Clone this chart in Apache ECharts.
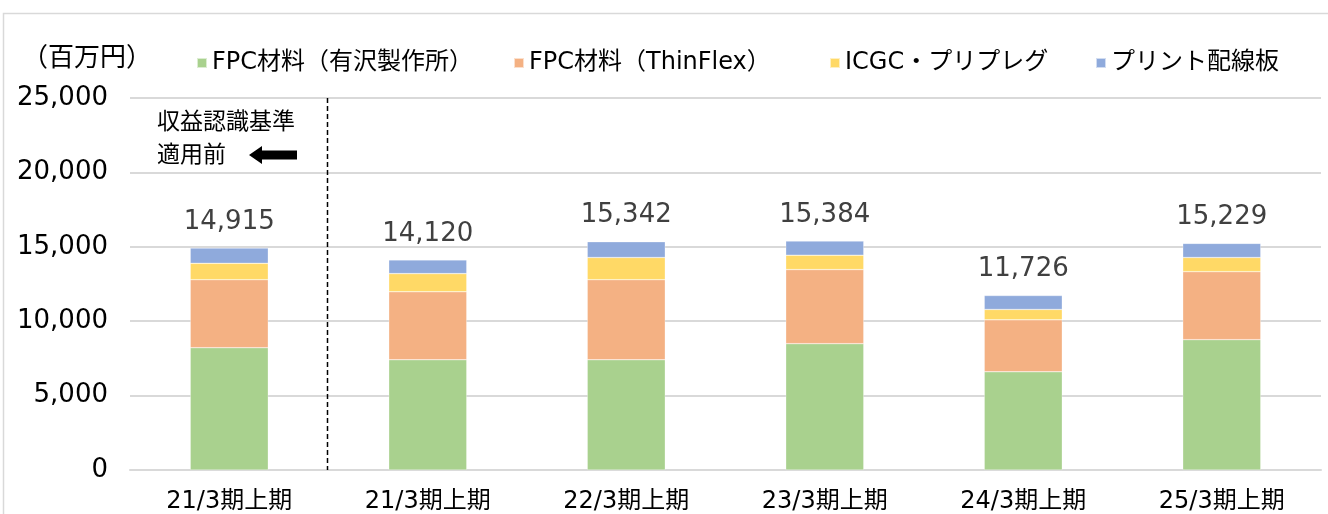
<!DOCTYPE html>
<html>
<head>
<meta charset="utf-8">
<script src="https://cdn.jsdelivr.net/npm/echarts@6/dist/echarts.min.js"></script>
<style>
  html, body { margin: 0; padding: 0; background: #fff; }
  #chart { width: 1328px; height: 514px; }
</style>
</head>
<body>
<div id="chart"></div>
<script>
// 半期ごとの売上高（百万円）
const categories = ['21/3期上期', '21/3期上期', '22/3期上期', '23/3期上期', '24/3期上期', '25/3期上期'];
const fpcArisawa  = [8220, 7410, 7410, 8490, 6600, 8760];
const fpcThinFlex = [4570, 4570, 5380, 4980, 3490, 4570];
const icgcPrepreg = [1100, 1220, 1490,  970,  700,  950];
const printedPcb  = [1025,  920, 1062,  944,  936,  949];
const seriesNames = ['FPC材料（有沢製作所）', 'FPC材料（ThinFlex）', 'ICGC・プリプレグ', 'プリント配線板'];
const yTicks = [0, 5000, 10000, 15000, 20000, 25000];

const colors = ['#a9d18e', '#f4b183', '#ffd966', '#8faadc'];
// 英数字は DejaVu Sans、和文は Noto Sans CJK JP で描く
const FONT = '"DejaVu Sans", "Noto Sans CJK JP", sans-serif';
const stacks = [fpcArisawa, fpcThinFlex, icgcPrepreg, printedPcb];
const fmt = v => v.toLocaleString('en-US');

const chart = echarts.init(document.getElementById('chart'));

const series = stacks.map((data, si) => ({
  name: seriesNames[si],
  type: 'bar',
  stack: 'total',
  data: data,
  barWidth: 78,
  itemStyle: { color: colors[si], borderColor: 'rgba(255,255,255,0.6)', borderWidth: 0.5 },
  label: si === stacks.length - 1 ? {
    show: true,
    position: 'top',
    distance: 13,
    fontFamily: FONT,
    fontSize: 26,
    color: '#404040',
    formatter: p => fmt(stacks.reduce((s, arr) => s + arr[p.dataIndex], 0))
  } : { show: false },
  emphasis: { disabled: true }
}));

// 凡例は項目ごとに配置する
const legendLeft = [191, 508, 824, 1090];
const legends = seriesNames.map((name, i) => ({
  left: legendLeft[i],
  top: 46,
  icon: 'rect',
  itemWidth: 10,
  itemHeight: 10,
  textStyle: { fontFamily: FONT, fontSize: 24, color: '#000' },
  data: [name]
}));

chart.setOption({
  animation: false,
  textStyle: { fontFamily: FONT },
  grid: { left: 130, right: 7, top: 98, bottom: 44, containLabel: false },
  legend: legends,
  xAxis: {
    type: 'category',
    data: categories,
    axisTick: { show: false },
    axisLine: { lineStyle: { color: '#d9d9d9', width: 2 } },
    axisLabel: { fontFamily: FONT, fontSize: 24, color: '#000', margin: 20 }
  },
  yAxis: {
    type: 'value',
    min: yTicks[0],
    max: yTicks[yTicks.length - 1],
    interval: yTicks[1] - yTicks[0],
    axisLine: { show: false },
    axisTick: { show: false },
    splitLine: { lineStyle: { color: '#d9d9d9', width: 2 } },
    axisLabel: { fontFamily: FONT, fontSize: 26, color: '#000', margin: 22, padding: [6, 0, 0, 0],
      formatter: v => fmt(v) }
  },
  series: series
});

// 収益認識基準の適用前後を分ける区切り線と注記
const x0 = chart.convertToPixel({ xAxisIndex: 0 }, 0);
const x1 = chart.convertToPixel({ xAxisIndex: 0 }, 1);
const xDiv = Math.round((x0 + x1) / 2) - 1.5;
const yTop = chart.convertToPixel({ yAxisIndex: 0 }, yTicks[yTicks.length - 1]);
const yBot = chart.convertToPixel({ yAxisIndex: 0 }, 0);

chart.setOption({
  graphic: [
    // 外枠
    { type: 'polyline', silent: true, shape: { points: [[3.5, 600], [3.5, 13.5], [1400, 13.5]] },
      style: { stroke: '#d9d9d9', lineWidth: 1.5, fill: null } },
    { type: 'text', left: 22, top: 46, silent: true,
      style: { text: '（百万円）', fontFamily: FONT, fontSize: 26, fill: '#000' } },
    { type: 'line', silent: true, z: 10,
      shape: { x1: xDiv, y1: yTop, x2: xDiv, y2: yBot },
      style: { stroke: '#000', lineWidth: 1.5, lineDash: [5, 3] } },
    { type: 'text', left: 157, top: 107, silent: true,
      style: { text: '収益認識基準\n適用前', fontFamily: FONT, fontSize: 23, lineHeight: 33, fill: '#000' } },
    { type: 'polygon', silent: true,
      shape: { points: [[249, 155], [262, 146], [262, 150.5], [297, 150.5], [297, 159.5], [262, 159.5], [262, 164]] },
      style: { fill: '#000' } }
  ]
});
</script>
</body>
</html>
